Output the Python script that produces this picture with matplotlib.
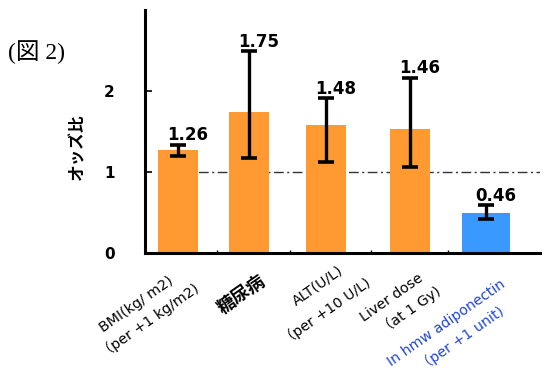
import matplotlib
matplotlib.use("Agg")
import matplotlib.pyplot as plt

plt.rcParams.update({
    "font.family": ["DejaVu Sans", "Noto Sans CJK JP"],
    "font.size": 10,
})

# データ
categories = [["BMI(kg/ m2)", "（per +1 kg/m2)"], ["糖尿病"],
              ["ALT(U/L)", "（per +10 U/L)"], ["Liver dose", "（at 1 Gy)"],
              ["In hmw adiponectin", "（per +1 unit)"]]
heights = [1.27, 1.74, 1.58, 1.53, 0.49]
err_low = [1.20, 1.17, 1.12, 1.06, 0.42]
err_high = [1.34, 2.49, 1.91, 2.16, 0.59]
value_labels = ["1.26", "1.75", "1.48", "1.46", "0.46"]

# レイアウト
xpos = [0, 0.92, 1.92, 3.01, 4.0]
widths = [0.52, 0.52, 0.52, 0.52, 0.62]
colors = ["#FF9A33"] * 4 + ["#3A99FF"]
label_colors = ["black"] * 4 + ["#1E44D8"]
# ラベル各行の右端オフセット (px)
label_offsets = [[(-6, -26), (19, -34)], [(15, -26)],
                 [(16, -16), (43, -28)], [(12, -24), (29, -36)],
                 [(18, -30), (16, -57)]]

fig = plt.figure(figsize=(5.54, 3.75), dpi=100)
ax = fig.add_axes([0.262, 0.325, 0.713, 0.648])

ax.bar(xpos, heights, width=widths, color=colors, zorder=2)
yerr = [[h - lo for h, lo in zip(heights, err_low)],
        [hi - h for h, hi in zip(heights, err_high)]]
ax.errorbar(xpos, heights, yerr=yerr, fmt="none", ecolor="black",
            elinewidth=2.4, capsize=6, capthick=2.6, zorder=3)

for x, hi, t in zip(xpos, err_high, value_labels):
    ax.text(x + 0.12, hi + 0.01, t, ha="center", va="bottom",
            fontsize=12, fontweight="bold")

ax.hlines(1.0, -0.23, 4.75, colors="#333333", linewidth=1.0,
          linestyles=(0, (7, 2.5, 1.5, 2.5)), zorder=1)

ax.set_xlim(-0.43, 4.7)
ax.set_ylim(0, 3)

for s in ["top", "right"]:
    ax.spines[s].set_visible(False)
for s in ["left", "bottom"]:
    ax.spines[s].set_linewidth(2.2)

ax.set_yticks([0, 1, 2])
ax.set_yticklabels(["0", "1", "2"], fontsize=11, fontweight="bold")
ax.tick_params(axis="y", direction="in", length=5, width=1.2, pad=22)

ax.set_xticks(xpos)
ax.set_xticklabels([])
ax.tick_params(axis="x", length=0)
ax.set_xticks([0.5, 1.45, 2.5, 3.5], minor=True)
ax.tick_params(axis="x", which="minor", direction="in", length=2, width=1)

for x, lines, offs, col in zip(xpos, categories, label_offsets, label_colors):
    for line, (dx, dy) in zip(lines, offs):
        cjk = line == "糖尿病"
        ax.annotate(line, xy=(x, 0), xycoords="data", xytext=(dx, dy),
                    textcoords="offset pixels", rotation=35,
                    rotation_mode="anchor", ha="right", va="center",
                    fontsize=13 if cjk else 10.3, color=col,
                    fontweight="bold" if cjk else "normal")

fig.text(0.139, 0.608, "オッズ比", rotation=90, ha="center", va="center",
         fontsize=12, fontweight="bold", family=["Noto Sans CJK JP"])
fig.text(0.015, 0.86, "(図 2)", ha="left", va="center", fontsize=17,
         family=["Liberation Serif", "Noto Sans CJK JP"])

fig.savefig("out.png", dpi=100)
